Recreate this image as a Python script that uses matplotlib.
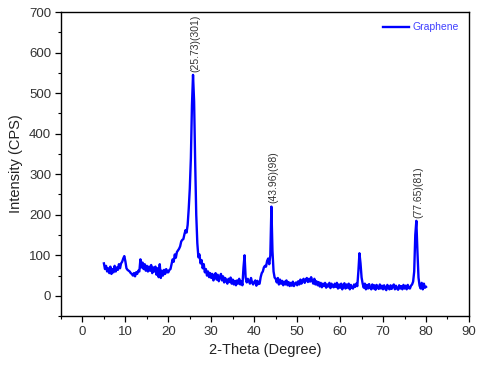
import numpy as np
import matplotlib
matplotlib.use("Agg")
import matplotlib.pyplot as plt
from matplotlib.ticker import MultipleLocator

plt.rcParams['font.family'] = ['Liberation Sans', 'DejaVu Sans']

# 2-theta grid: 5.00 to 80.00 deg in 0.25 deg steps
theta_start = 5.0
theta_step = 0.25

intensity = [
    # 5.00 - 9.75
    80, 66, 74, 60, 68, 56, 72, 54, 66, 58, 74, 60, 70, 64, 78, 68, 80, 84, 92, 98,
    # 10.00 - 14.75
    85, 68, 64, 62, 60, 56, 54, 50, 56, 48, 58, 54, 62, 60, 90, 70, 82, 66, 78, 62,
    # 15.00 - 19.75
    74, 60, 72, 62, 76, 56, 70, 60, 72, 52, 68, 46, 78, 44, 62, 50, 64, 54, 66, 58,
    # 20.00 - 24.75
    58, 64, 66, 78, 90, 84, 102, 94, 108, 112, 116, 122, 134, 138, 140, 152, 162, 156, 175, 215,
    # 25.00 - 29.75
    265, 340, 470, 545, 480, 330, 200, 130, 95, 102, 80, 88, 68, 78, 58, 66, 50, 60, 46, 56,
    # 30.00 - 34.75
    44, 54, 38, 50, 56, 40, 52, 36, 46, 54, 38, 48, 33, 44, 36, 30, 42, 34, 45, 30,
    # 35.00 - 39.75
    40, 28, 37, 26, 38, 30, 42, 28, 36, 26, 70, 100, 45, 33, 42, 36, 30, 44, 33, 28,
    # 40.00 - 44.75
    34, 38, 25, 37, 29, 30, 46, 56, 60, 70, 74, 72, 86, 92, 78, 100, 220, 110, 60, 45,
    # 45.00 - 49.75
    42, 33, 44, 28, 40, 30, 37, 26, 35, 28, 38, 26, 34, 24, 32, 25, 35, 24, 30, 33,
    # 50.00 - 54.75
    26, 36, 28, 40, 30, 38, 42, 32, 40, 44, 34, 42, 35, 46, 37, 30, 42, 28, 36, 26,
    # 55.00 - 59.75
    34, 23, 32, 21, 30, 24, 32, 20, 28, 23, 32, 19, 30, 23, 21, 30, 22, 32, 18, 28,
    # 60.00 - 64.75
    20, 30, 16, 27, 31, 18, 28, 20, 30, 16, 27, 20, 18, 28, 22, 30, 24, 60, 105, 80,
    # 65.00 - 69.75
    45, 30, 20, 30, 16, 27, 18, 29, 20, 16, 28, 18, 26, 15, 27, 20, 17, 28, 18, 25,
    # 70.00 - 74.75
    16, 26, 18, 14, 27, 19, 16, 26, 17, 24, 28, 16, 25, 18, 15, 26, 18, 24, 16, 27,
    # 75.00 - 79.75
    18, 25, 16, 27, 19, 18, 25, 28, 35, 60, 150, 185, 110, 45, 25, 18, 32, 16, 30, 20,
    # 80.00
    22,
]

peak_pos = [25.73, 43.96, 77.65]
peak_val = [545, 220, 185]
peak_labels = ["(25.73)(301)", "(43.96)(98)", "(77.65)(81)"]

theta = theta_start + theta_step * np.arange(len(intensity))

fig = plt.figure(figsize=(4.8, 3.65), dpi=100)
ax = fig.add_axes([0.127, 0.134, 0.850, 0.833])

ax.plot(theta, intensity, color='#0000ff', lw=1.7, label='Graphene')

for xp, yp, lab in zip(peak_pos, peak_val, peak_labels):
    ax.text(xp + 0.5, yp + 8, lab, rotation=90, ha='center', va='bottom',
            fontsize=7.5, color='#333333')

ax.set_xlim(-5, 90)
ax.set_ylim(-50, 700)
ax.xaxis.set_major_locator(MultipleLocator(10))
ax.xaxis.set_minor_locator(MultipleLocator(5))
ax.yaxis.set_major_locator(MultipleLocator(100))
ax.yaxis.set_minor_locator(MultipleLocator(50))
ax.tick_params(which='major', direction='out', length=4, width=0.9,
               labelsize=9.5, labelcolor='#333333', pad=3)
ax.tick_params(which='minor', direction='out', length=2.5, width=0.8)
ax.tick_params(top=False, right=False, which='both')
for s in ax.spines.values():
    s.set_linewidth(1.0)

ax.set_xlabel('2-Theta (Degree)', fontsize=10.5, color='#222222', labelpad=4)
ax.set_ylabel('Intensity (CPS)', fontsize=10.5, color='#222222', labelpad=4)

leg = ax.legend(loc='upper right', frameon=False, fontsize=7.5,
                handlelength=2.5, handletextpad=0.3, borderaxespad=0.6)
for t in leg.get_texts():
    t.set_color('#4040ff')

fig.savefig('out.png', dpi=100)
